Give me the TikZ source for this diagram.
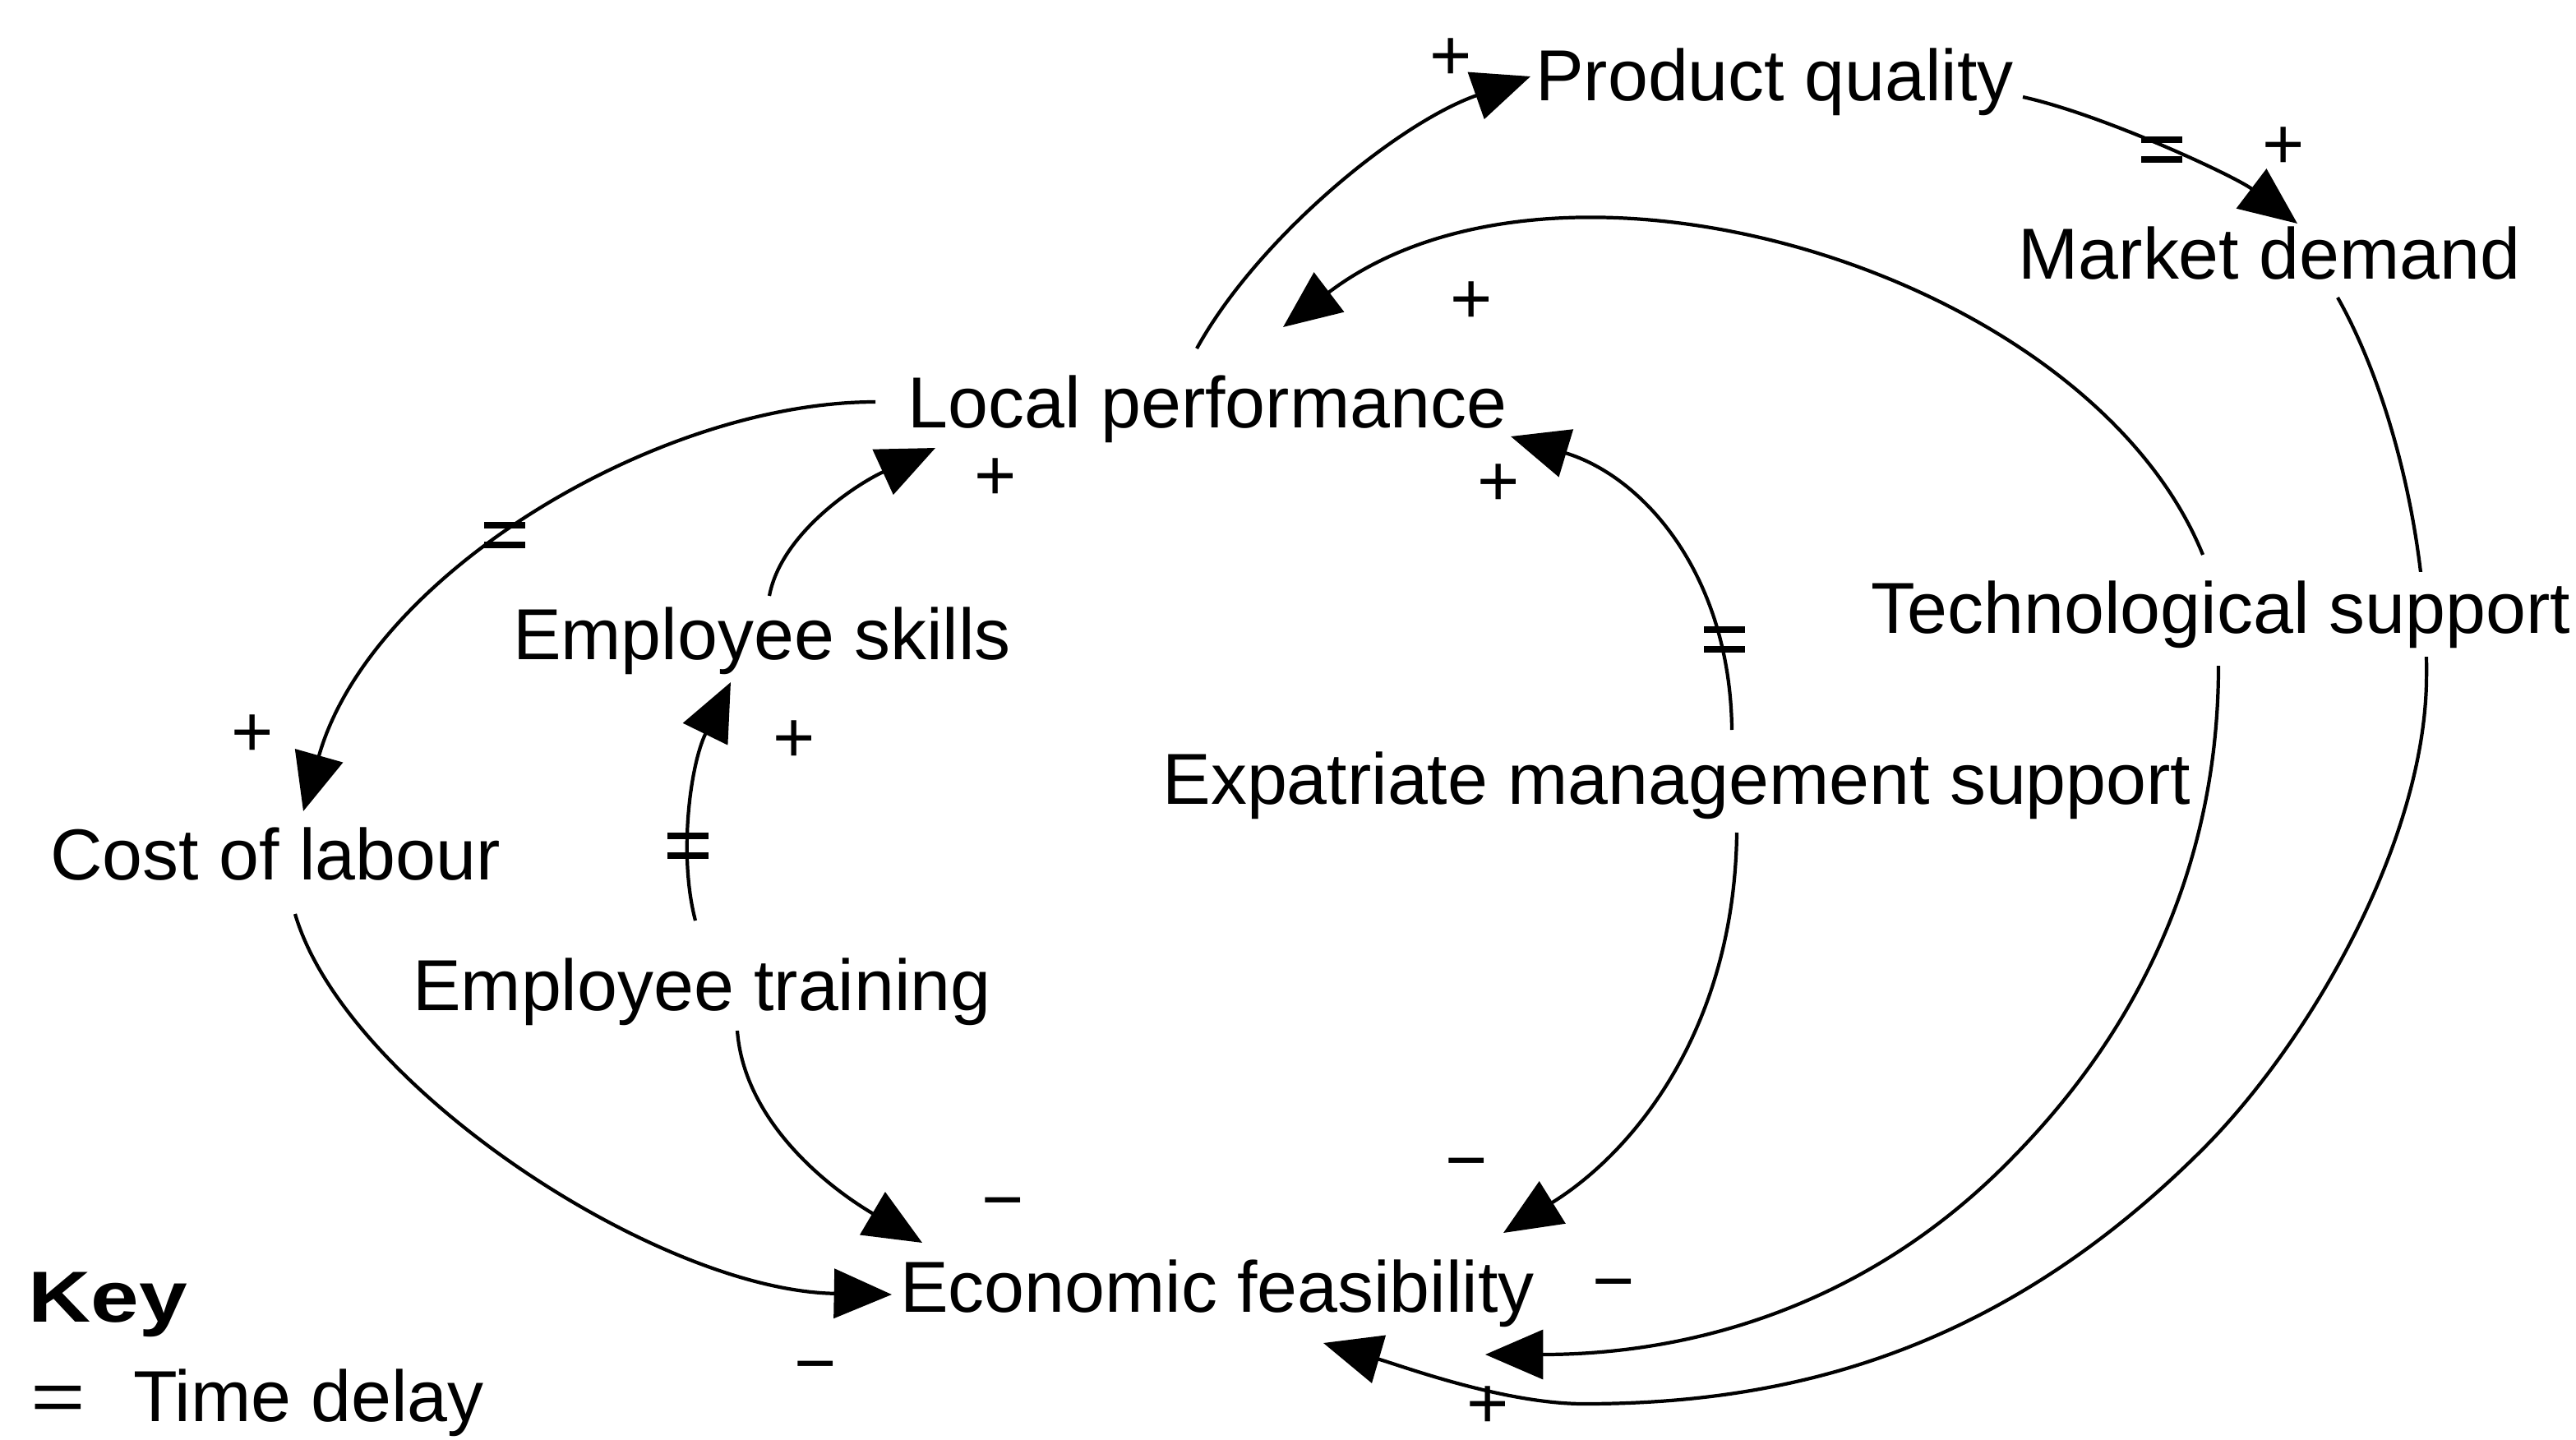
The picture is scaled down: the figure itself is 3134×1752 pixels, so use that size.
\documentclass[tikz,border=0pt]{standalone}
\usepackage{fontspec}
\setmainfont{Liberation Sans}
\usetikzlibrary{arrows.meta}
\pgfdeclarelayer{background}
\pgfsetlayers{background,main}
\begin{document}
\begin{tikzpicture}[x=0.01cm,y=-0.01cm,
  lbl/.style={font=\fontsize{25}{30}\selectfont, inner sep=3pt, anchor=base},
  sgn/.style={font=\fontsize{25}{30}\selectfont, inner sep=0pt},
  link/.style={line width=1.2pt, -{Triangle[length=20pt,width=17pt]}},
  dly/.pic={\draw[line width=2pt] (-25,-12) -- (25,-12) (-25,12) -- (25,12);}
]
\useasboundingbox (0,0) rectangle (3134,1752);

% variables
\node[lbl] (pq) at (2159,123) {Product quality};
\node[lbl] (md) at (2761,340) {Market demand};
\node[lbl] (lp) at (1469,520) {Local performance};
\node[lbl] (es) at (927,802) {Employee skills};
\node[lbl] (cl) at (335,1070) {Cost of labour};
\node[lbl, fill=white] (ts) at (2702,770) {Technological support};
\node[lbl] (em) at (2040,978) {Expatriate management support};
\node[lbl] (et) at (854,1229) {Employee training};
\node[lbl] (ef) at (1481,1596) {Economic feasibility};

% key
\node[lbl, anchor=base west] (key) at (23,1608) {\scalebox{1.2}[1]{\bfseries Key}};
\node[lbl, anchor=base west] (keq) at (26,1729) {\scalebox{1.3}[1]{=}};
\node[lbl, anchor=base west] (ktd) at (151,1729) {Time delay};

% polarity signs
\node[sgn] (s1) at (1765,72) {+};
\node[sgn] (s2) at (2778,180) {+};
\node[sgn] (s3) at (1790,368) {+};
\node[sgn] (s4) at (1211,583) {+};
\node[sgn] (s5) at (1823,590) {+};
\node[sgn] (s6) at (307,895) {+};
\node[sgn] (s7) at (966,902) {+};
\node[sgn] (s8) at (1220,1473) {−};
\node[sgn] (s9) at (1784,1425) {−};
\node[sgn] (s10) at (1963,1572) {−};
\node[sgn] (s11) at (992,1672) {−};
\node[sgn] (s12) at (1810,1712) {+};

\begin{pgfonlayer}{background}
% Local performance -> Product quality
\draw[link] ([shift={(-13,-96)}]lp.base) .. controls (1530,290) and (1700,150) .. ([shift={(-297,-30)}]pq.base);
% Product quality -> Market demand
\draw[link] ([shift={(302,-5)}]pq.base) .. controls (2560,140) and (2720,215) .. ([shift={(34,-68)}]md.base);
% Technological support -> Local performance
\draw[link] ([shift={(-22,-95)}]ts.base) .. controls (2540,330) and (1900,140) .. ([shift={(92,-122)}]lp.base);
% Market demand -> Economic feasibility
\draw[link] ([shift={(83,22)}]md.base) .. controls (2905,470) and (2955,650) .. (2952,830)
  .. controls (2948,1030) and (2807,1271) .. (2680,1398)
  .. controls (2433,1645) and (2177,1708) .. (1927,1708)
  .. controls (1830,1708) and (1706,1662) .. ([shift={(129,38)}]ef.base);
% Technological support -> Economic feasibility
\draw[link] ([shift={(-3,40)}]ts.base) .. controls (2699,1130) and (2529,1327) .. (2445,1412)
  .. controls (2270,1590) and (2057,1648) .. ([shift={(326,52)}]ef.base);
% Expatriate management support -> Local performance
\draw[link] ([shift={(67,-90)}]em.base) .. controls (2105,700) and (2000,580) .. ([shift={(369,11)}]lp.base);
% Expatriate management support -> Economic feasibility
\draw[link] ([shift={(73,35)}]em.base) .. controls (2110,1250) and (1990,1400) .. ([shift={(348,-96)}]ef.base);
% Local performance -> Cost of labour
\draw[link] ([shift={(-404,-31)}]lp.base) .. controls (800,489) and (450,700) .. ([shift={(34,-83)}]cl.base);
% Employee skills -> Local performance
\draw[link] ([shift={(9,-77)}]es.base) .. controls (950,650) and (1040,590) .. ([shift={(-331,25)}]lp.base);
% Employee training -> Employee skills
\draw[link] ([shift={(-8,-109)}]et.base) .. controls (825,1040) and (840,930) .. ([shift={(-38,28)}]es.base);
% Employee training -> Economic feasibility
\draw[link] ([shift={(43,25)}]et.base) .. controls (905,1360) and (1000,1440) .. ([shift={(-359,-84)}]ef.base);
% Cost of labour -> Economic feasibility
\draw[link] ([shift={(24,42)}]cl.base) .. controls (420,1320) and (800,1570) .. ([shift={(-396,-21)}]ef.base);
\end{pgfonlayer}

% time-delay marks
\pic at (614,651) {dly};
\pic at (837,1029) {dly};
\pic at (2098,778) {dly};
\pic at (2630,182) {dly};
\end{tikzpicture}
\end{document}
